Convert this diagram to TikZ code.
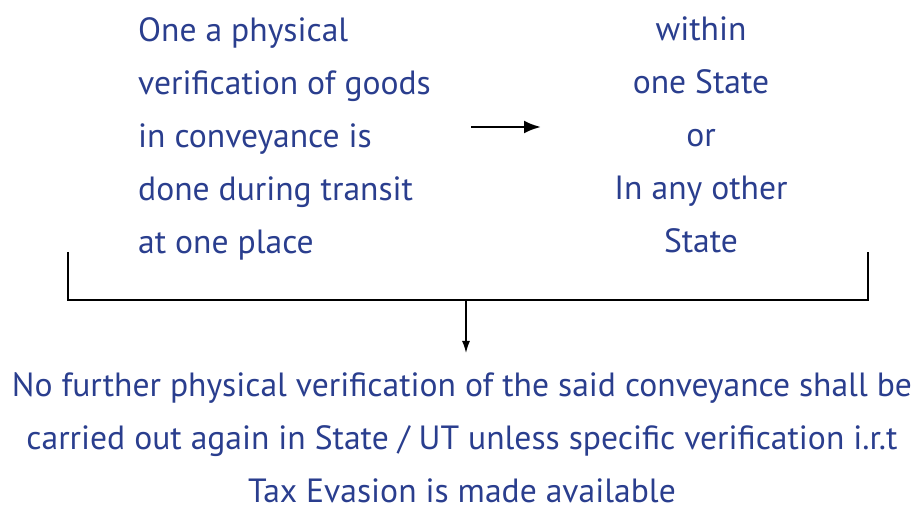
\documentclass[tikz,border=0pt]{standalone}
\usepackage{fontspec}
\setmainfont{PT Sans}
\usepackage{xcolor}
\usepackage{tikz}
\usetikzlibrary{calc,positioning,arrows.meta}
\definecolor{azulTexto}{RGB}{42,62,142}

\tikzset{
  textobloque/.style={font=\fontsize{33.6}{53}\selectfont, text=azulTexto, inner sep=0pt},
  flecha/.style={-{Latex[length=17pt,width=13pt]}, line width=2.6pt},
  flechafina/.style={-{Latex[length=12pt,width=8pt]}, line width=1.4pt},
  corchete/.style={line width=2pt}
}

\begin{document}
\begin{tikzpicture}[x=1pt,y=1pt]
  \useasboundingbox (0,0) rectangle (919,505);
  % Left block
  \node[textobloque, align=left, anchor=north west] (izq) at (138,488)
    {One a physical\\verification of goods\\in conveyance is\\done during transit\\at one place};
  % Right block
  \node[textobloque, align=center, anchor=north] (der) at (701,488)
    {within\\one State\\or\\In any other\\State};
  % Arrow between blocks
  \coordinate (fa) at (471,378);
  \coordinate (fb) at (541,378);
  \draw[flecha] (fa) -- (fb);
  % Bracket
  \coordinate (c1) at (68,253);
  \coordinate (c2) at (68,205);
  \coordinate (c3) at (868,205);
  \coordinate (c4) at (868,253);
  \draw[corchete] (c1) -- (c2) -- (c3) -- (c4);
  % Result
  \node[textobloque, align=center, anchor=north] (abajo) at (462,133)
    {No further physical verification of the said conveyance shall be\\carried out again in State / UT unless specific verification i.r.t\\Tax Evasion is made available};
  \coordinate (cm) at (466,205);
  \coordinate (cn) at (466,152);
  \draw[flechafina] (cm) -- (cn);
\end{tikzpicture}
\end{document}
